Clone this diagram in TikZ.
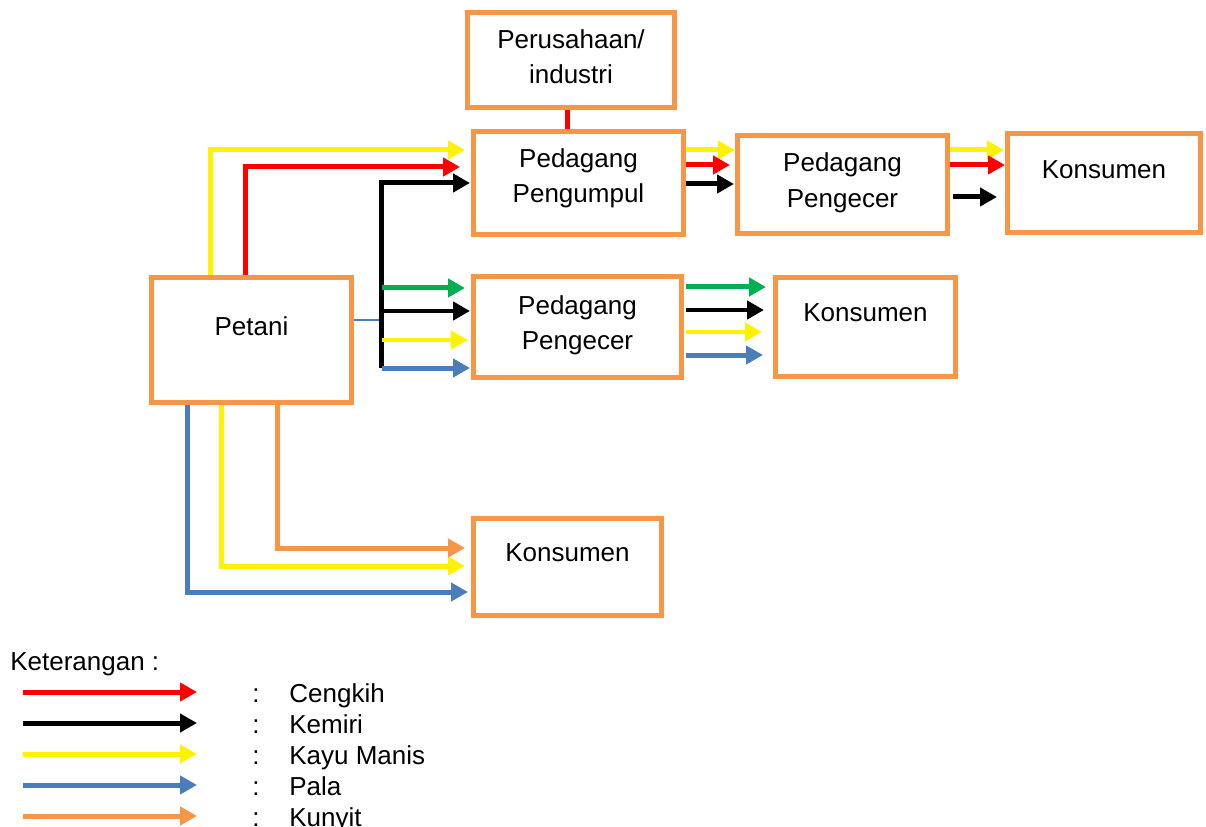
\documentclass[tikz,border=0pt]{standalone}
\usepackage{fontspec}
\setmainfont{Liberation Sans}
\usetikzlibrary{arrows.meta}
\usetikzlibrary{calc}

\definecolor{boxorange}{RGB}{247,150,70}
\definecolor{palablue}{RGB}{74,126,187}
\definecolor{leafgreen}{RGB}{0,176,80}

\tikzset{
  teks/.style={font=\fontsize{14.8pt}{20pt}\selectfont},
  box/.style={teks, draw=boxorange, line width=0.1cm, inner sep=0pt, align=center},
  flow/.style={line width=0.1cm, -{Triangle[length=0.34cm,width=0.36cm]}},
  cengkih/.style={flow, draw=red},
  kemiri/.style={flow, draw=black},
  kayumanis/.style={flow, draw=yellow},
  pala/.style={flow, draw=palablue},
  kunyit/.style={flow, draw=boxorange},
  hijau/.style={flow, draw=leafgreen},
}

\begin{document}
\begin{tikzpicture}[x=0.02cm, y=-0.02cm]
  \useasboundingbox (0,0) rectangle (1206,827);

  % boxes
  \node[box, minimum width=4.14cm, minimum height=1.9cm, text depth=4pt] (industri) at (571,60) {Perusahaan/\\industri};
  \node[box, minimum width=4.2cm, minimum height=2.06cm, text depth=8.5pt] (pengumpul) at (578.5,183) {Pedagang\\Pengumpul};
  \node[box, minimum width=4.2cm, minimum height=1.96cm, text depth=5pt] (pengecer) at (842.5,184.5) {Pedagang\\Pengecer};
  \node[box, minimum width=3.86cm, minimum height=1.98cm, text depth=15pt] (konsumen) at (1104,183) {Konsumen};
  \node[box, minimum width=4cm, minimum height=2.5cm, text depth=16pt] (petani) at (251.5,340) {Petani};
  \node[box, minimum width=4.16cm, minimum height=2.02cm, text depth=5pt] (pengecer2) at (577.5,327) {Pedagang\\Pengecer};
  \node[box, minimum width=3.6cm, minimum height=1.98cm, text depth=16.4pt] (konsumen2) at (865.5,327) {Konsumen};
  \node[box, minimum width=3.76cm, minimum height=1.94cm, text depth=17pt] (konsumen3) at (567.5,567) {Konsumen};

  % petani -> pengumpul over the top
  \draw[kayumanis] ($(petani.north west)+(61,0)$) |- ($(pengumpul.west)+(-6,-33)$);
  \draw[cengkih] ($(petani.north west)+(96,0)$) |- ($(pengumpul.west)+(-11,-16)$);

  % hub on the right side of petani
  \coordinate (hub) at ($(petani.east)+(28,-20)$);
  \draw[palablue, line width=1pt] ($(petani.east)+(0,-20)$) -- (hub);
  \draw[kemiri] ($(hub)+(0,48)$) |- ($(pengumpul.west)+(-1,0)$);
  \foreach \c/\dy/\dx in {hijau/-39/-6, kemiri/-16/-1, kayumanis/13/-3, pala/41/-1}
    \draw[\c] ($(hub |- pengecer2.west)+(0,\dy)$) -- ($(pengecer2.west)+(\dx,\dy)$);

  % industri - pengumpul
  \draw[cengkih, -] ($(industri.south)+(-4,0)$) coordinate (r) -- (r |- pengumpul.north);

  % pengumpul -> pengecer -> konsumen
  \foreach \c/\dy/\dx in {kayumanis/-33/0, cengkih/-18/-5, kemiri/1/-1}
    \draw[\c] ($(pengumpul.east)+(0,\dy)$) -- ($(pengecer.west |- pengumpul.east)+(\dx,\dy)$);
  \foreach \c/\dy/\sx/\dx in {kayumanis/-34.5/0/-1, cengkih/-19.5/0/0, kemiri/12.5/3/-8}
    \draw[\c] ($(pengecer.east)+(\sx,\dy)$) -- ($(konsumen.west |- pengecer.east)+(\dx,\dy)$);

  % pengecer2 -> konsumen2
  \foreach \c/\dy/\dx in {hijau/-40/-7, kemiri/-17/-9, kayumanis/5/-11, pala/28/-10}
    \draw[\c] ($(pengecer2.east)+(2,\dy)$) -- ($(konsumen2.west |- pengecer2.east)+(\dx,\dy)$);

  % petani -> konsumen3 underneath
  \draw[pala] ($(petani.south west)+(38,0)$) |- ($(konsumen3.west)+(-3,25)$);
  \draw[kayumanis] ($(petani.south west)+(72,0)$) |- ($(konsumen3.west)+(-6,-1)$);
  \draw[kunyit] ($(petani.south west)+(128,0)$) |- ($(konsumen3.west)+(-6,-19)$);

  % legend
  \node[teks, anchor=base west, inner sep=0pt] (keterangan) at (10,670) {Keterangan :};
  \foreach \c/\nama [count=\i] in {cengkih/Cengkih, kemiri/Kemiri, kayumanis/Kayu Manis, pala/Pala, kunyit/Kunyit} {
    \coordinate (ka\i) at (23,661+31*\i);
    \coordinate (kb\i) at (197,661+31*\i);
    \draw[\c] (ka\i) -- (kb\i);
    \node[teks, anchor=base west, inner sep=0pt] (titik\i) at (252,671+31*\i) {:};
    \node[teks, anchor=base west, inner sep=0pt] (nama\i) at (289,671+31*\i) {\nama};
  }
\end{tikzpicture}
\end{document}
